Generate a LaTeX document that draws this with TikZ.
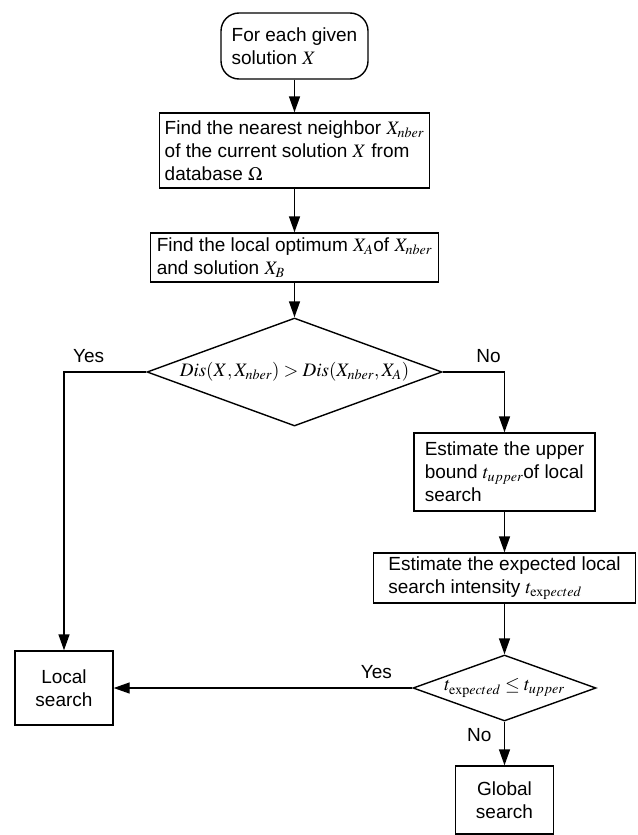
\documentclass[tikz,border=0pt]{standalone}
\usepackage{mathptmx}
\usepackage[no-math]{fontspec}
\setmainfont{Liberation Sans}
\usetikzlibrary{shapes.geometric,arrows.meta}

\begin{document}
\begin{tikzpicture}[x=1pt,y=-1pt,
    every node/.style={font=\fontsize{19}{23}\selectfont},
    box/.style={draw,line width=1.4pt,align=left,inner sep=0pt},
    startbox/.style={box,rounded corners=18pt},
    decision/.style={draw,diamond,line width=1.4pt,inner sep=0pt},
    arrow/.style={line width=1.4pt,-{Triangle[length=16pt,width=11pt]}}]
        \useasboundingbox (0,0) rectangle (637,835);
        % Draw main column
        \node[startbox, minimum width=147, minimum height=66] (start) at (294.5,46) {For each given\\solution $X$};
        \node[box, minimum width=270, minimum height=75] (nearest) at (294.5,150.5) {Find the nearest neighbor $X_{nber}$\\of the current solution $X$ from\\database $\Omega$};
        \node[box, minimum width=288, minimum height=49] (optimum) at (294.5,257.5) {Find the local optimum $X_A$of $X_{nber}$\\and solution $X_B$};
        \node[decision, minimum width=295, minimum height=108,
              label=center:{$Dis(X,X_{nber})>Dis(X_{nber},X_A)$}] (cond) at (294.5,372) {};
        % Draw right column
        \node[box, minimum width=181, minimum height=78] (upper) at (504.5,472) {Estimate the upper\\bound $t_{upper}$of local\\search};
        \node[box, minimum width=262, minimum height=50] (expected) at (504.5,578) {Estimate the expected local\\search intensity $t_{\mathrm{exp}ected}$};
        \node[decision, minimum width=183, minimum height=66,
              label=center:{$t_{\mathrm{exp}ected}\le t_{upper}$}] (check) at (504.5,688) {};
        % Draw end boxes
        \node[box, align=center, minimum width=98, minimum height=74] (local) at (64,688) {Local\\search};
        \node[box, align=center, minimum width=98, minimum height=68] (global) at (504.5,800) {Global\\search};
        % Draw connectors
        \draw[arrow] (start) -- (nearest);
        \draw[arrow] (nearest) -- (optimum);
        \draw[arrow] (optimum) -- (cond);
        \draw[arrow] (cond.west) -| (local.north) node[pos=0.35, above=5pt] {Yes};
        \draw[arrow] (cond.east) -| (upper.north) node[pos=0.37, above=5pt] {No};
        \draw[arrow] (upper) -- (expected);
        \draw[arrow] (expected) -- (check);
        \draw[arrow] (check) -- (local) node[pos=0.12, above=5pt] {Yes};
        \draw[arrow] (check) -- (global) node[pos=0.31, left=9pt] {No};
      \end{tikzpicture}
\end{document}
